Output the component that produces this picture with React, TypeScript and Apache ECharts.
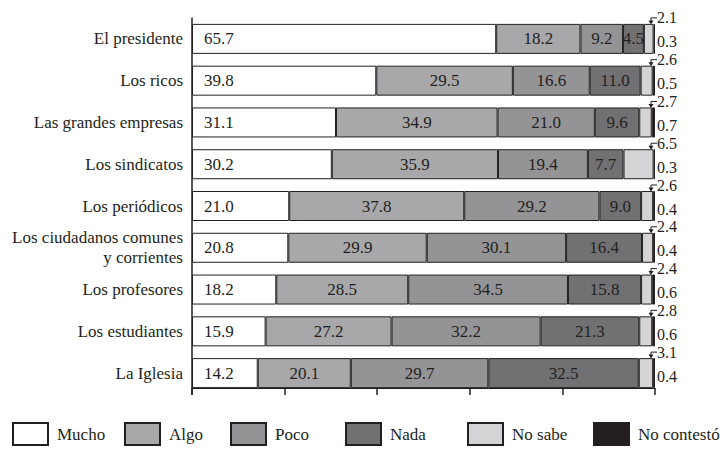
import React, { useEffect, useRef } from "react";
import * as echarts from "echarts";

const categories = [
  "El presidente",
  "Los ricos",
  "Las grandes empresas",
  "Los sindicatos",
  "Los periódicos",
  "Los ciudadanos comunes\ny corrientes",
  "Los profesores",
  "Los estudiantes",
  "La Iglesia",
];
const seriesNames = ["Mucho", "Algo", "Poco", "Nada", "No sabe", "No contestó"];
const mucho = [65.7, 39.8, 31.1, 30.2, 21.0, 20.8, 18.2, 15.9, 14.2];
const algo = [18.2, 29.5, 34.9, 35.9, 37.8, 29.9, 28.5, 27.2, 20.1];
const poco = [9.2, 16.6, 21.0, 19.4, 29.2, 30.1, 34.5, 32.2, 29.7];
const nada = [4.5, 11.0, 9.6, 7.7, 9.0, 16.4, 15.8, 21.3, 32.5];
const noSabe = [2.1, 2.6, 2.7, 6.5, 2.6, 2.4, 2.4, 2.8, 3.1];
const noContesto = [0.3, 0.5, 0.7, 0.3, 0.4, 0.4, 0.6, 0.6, 0.4];
const xTicks = [0, 20, 40, 60, 80, 100];

const colors = ["#ffffff", "#a8a8aa", "#949497", "#717174", "#d4d4d6", "#231f20"];
const INK = "#231f20";
const FONT = "'Liberation Serif', 'DejaVu Serif', serif";
const BAR_W = 30;

export default function App() {
  const ref = useRef<HTMLDivElement>(null);
  useEffect(() => {
    if (!ref.current) return;
    const chart = echarts.init(ref.current, undefined, { renderer: "svg" });
    const values = [mucho, algo, poco, nada, noSabe, noContesto];
    const fmt = (p: any) => Number(p.value).toFixed(1);
    const barSeries = values.map((arr, k) => ({
      name: seriesNames[k],
      type: "bar",
      stack: "total",
      barWidth: BAR_W,
      data: arr,
      itemStyle: { color: colors[k], borderColor: INK, borderWidth: 1 },
      label: {
        show: k < 4,
        position: k === 0 ? "insideLeft" : "inside",
        distance: 12,
        formatter: fmt,
        fontFamily: FONT,
        fontSize: 17,
        color: INK,
      },
      emphasis: { disabled: true },
    }));
    const calloutData = categories.map((_, i) => [xTicks[xTicks.length - 1], i, noSabe[i], noContesto[i]]);
    const callouts = {
      type: "custom",
      name: "callouts",
      silent: true,
      encode: { x: 0, y: 1 },
      data: calloutData,
      z: 10,
      renderItem: (params: any, api: any) => {
        const idx = api.value(1);
        const end = api.coord([api.value(0), idx]);
        const x = end[0];
        const cy = end[1];
        const top = cy - BAR_W / 2;
        const ly = top - 6;
        return {
          type: "group",
          children: [
            {
              type: "polyline",
              shape: { points: [[x + 2, ly], [x - 4, ly], [x - 4, top - 2]] },
              style: { stroke: INK, lineWidth: 1, fill: null },
            },
            {
              type: "polygon",
              shape: { points: [[x - 6.5, top - 3.5], [x - 1.5, top - 3.5], [x - 4, top + 0.5]] },
              style: { fill: INK },
            },
            {
              type: "text",
              style: {
                x: x + 2,
                y: ly,
                text: Number(api.value(2)).toFixed(1),
                fontFamily: FONT,
                fontSize: 16,
                fill: INK,
                align: "left",
                verticalAlign: "middle",
              },
            },
            {
              type: "text",
              style: {
                x: x + 2,
                y: cy + 3,
                text: Number(api.value(3)).toFixed(1),
                fontFamily: FONT,
                fontSize: 16,
                fill: INK,
                align: "left",
                verticalAlign: "middle",
              },
            },
          ],
        };
      },
    };
    const legendLefts = [12, 124, 230, 345, 467, 593];
    const legends = seriesNames.map((n, k) => ({
      data: [n],
      left: legendLefts[k],
      top: 422,
      padding: 0,
      itemWidth: 35,
      itemHeight: 22,
      icon: "rect",
      selectedMode: false,
      textStyle: { fontFamily: FONT, fontSize: 17, color: INK, padding: [6, 0, 0, 4] },
    }));
    chart.setOption({
      animation: false,
      backgroundColor: "#ffffff",
      textStyle: { fontFamily: FONT },
      legend: legends,
      grid: { left: 192, right: 68, top: 18, height: 376 },
      xAxis: {
        type: "value",
        min: xTicks[0],
        max: xTicks[xTicks.length - 1],
        interval: 20,
        offset: -6,
        axisLine: { show: true, lineStyle: { color: INK, width: 1 } },
        axisTick: { show: true, length: 7, lineStyle: { color: INK, width: 1.5 } },
        axisLabel: { show: false },
        splitLine: { show: false },
      },
      yAxis: {
        type: "category",
        data: categories,
        inverse: true,
        axisLine: { show: true, lineStyle: { color: INK, width: 1.5 } },
        axisTick: { show: false },
        axisLabel: {
          fontFamily: FONT,
          fontSize: 17,
          color: INK,
          margin: 9,
          lineHeight: 20,
        },
      },
      series: [...barSeries, callouts],
    });
    return () => chart.dispose();
  }, []);
  return (
    <div
      ref={ref}
      style={{ position: "fixed", left: 0, top: 0, width: 723, height: 449, background: "#fff" }}
    />
  );
}
